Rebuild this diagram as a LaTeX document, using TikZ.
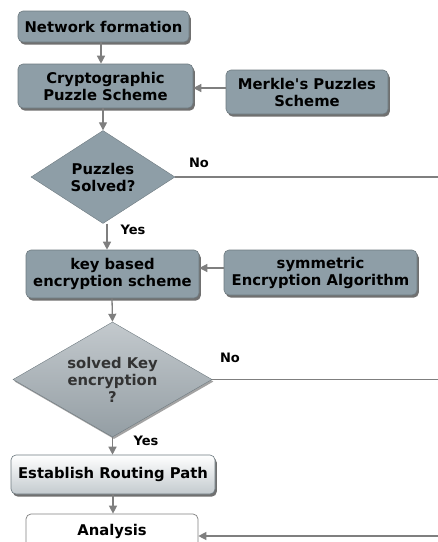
\documentclass[tikz,border=0pt]{standalone}
\usepackage{fontspec}
\setmainfont{DejaVu Sans}[Ligatures=TeXOff]
\usetikzlibrary{shapes.geometric,shadows,arrows.meta}
\definecolor{boxfill}{HTML}{8E9EA7}
\definecolor{linecol}{HTML}{7F7F7F}
\definecolor{edgecol}{HTML}{6E7A80}
\definecolor{dtop}{HTML}{C3C9CD}
\definecolor{dbot}{HTML}{949EA4}
\definecolor{rbot}{HTML}{C3CACE}
\tikzset{
  txt/.style={font=\bfseries\fontsize{14.8}{17}\selectfont, align=center, text=black},
  procbox/.style={txt, rectangle, rounded corners=5pt, draw=edgecol, line width=0.6pt,
    fill=boxfill, inner sep=0pt,
    drop shadow={shadow xshift=1.8pt, shadow yshift=-2.6pt, fill=black!70, opacity=0.8}},
  decbox/.style={txt, diamond, draw=edgecol, line width=0.4pt, inner sep=0pt},
  lbl/.style={font=\bfseries\fontsize{13}{15}\selectfont, text=black, inner sep=0pt},
  conn/.style={draw=linecol, line width=1.3pt},
  arr/.style={conn, -{Triangle[length=8pt,width=8pt,fill=linecol]}},
}
\begin{document}
\begin{tikzpicture}[x=1pt,y=-1pt]
\useasboundingbox (0,0) rectangle (438,542);

% nodes
\node[procbox, minimum width=171pt, minimum height=31pt] (net) at (103.5,26.5) {Network formation};
\node[procbox, minimum width=175pt, minimum height=44pt] (crypto) at (105.5,86) {Cryptographic\\Puzzle Scheme};
\node[procbox, minimum width=162pt, minimum height=44pt] (merkle) at (307,92) {Merkle's Puzzles\\Scheme};
\node[decbox, fill=boxfill, aspect=1.55, minimum width=144pt, minimum height=93pt] (d1) at (103,177) {Puzzles\\Solved?};
\node[procbox, minimum width=173pt, minimum height=48pt] (key) at (112.5,274) {key based\\encryption scheme};
\node[procbox, minimum width=193pt, minimum height=45pt] (sym) at (320.5,272.5) {symmetric\\Encryption Algorithm};
\node[decbox, top color=dtop, bottom color=dbot, text=black!80, aspect=1.73,
      minimum width=199pt, minimum height=115pt,
      drop shadow={shadow xshift=1.5pt, shadow yshift=-2pt, fill=black!60, opacity=0.6}] (d2) at (112.5,379.5) {solved Key\\encryption\\?};
\node[procbox, top color=white, bottom color=rbot, minimum width=204pt, minimum height=39pt] (route) at (113,474.5) {Establish Routing Path};
\node[txt, rectangle, rounded corners=5pt, draw=gray, line width=0.7pt, fill=white,
      minimum width=172pt, minimum height=34pt, inner sep=0pt] (anal) at (112,531) {Analysis};

% free ends
\coordinate (e1) at (438,178);
\coordinate (e2) at (438,381);
\coordinate (e3) at (438,536);

% connectors
\draw[arr] (net.south -| 101,0) -- (crypto.north -| 101,0);
\draw[arr] (merkle.west |- 0,88) -- (crypto.east |- 0,88);
\draw[arr] (crypto.south -| 103,0) -- (d1.north);
\draw[conn] (d1.east) -- (d1.east -| e1);
\draw[arr] (d1.south) ++(4,0) coordinate (d1s) -- (key.north -| d1s);
\draw[arr] (sym.west |- 0,268) -- (key.east |- 0,268);
\draw[arr] (key.south -| 112,0) -- (d2.north);
\draw[conn] (d2.east) -- (d2.east -| e2);
\draw[arr] (d2.south) -- (route.north -| d2.south);
\draw[arr] (route.south -| 113,0) -- (anal.north -| 113,0);
\draw[arr] (e3) -- (anal.east |- e3);

% labels
\node[lbl] (no1) at (199,163) {No};
\node[lbl] (yes1) at (133,230) {Yes};
\node[lbl] (no2) at (230,358) {No};
\node[lbl] (yes2) at (146,441) {Yes};
\end{tikzpicture}
\end{document}
